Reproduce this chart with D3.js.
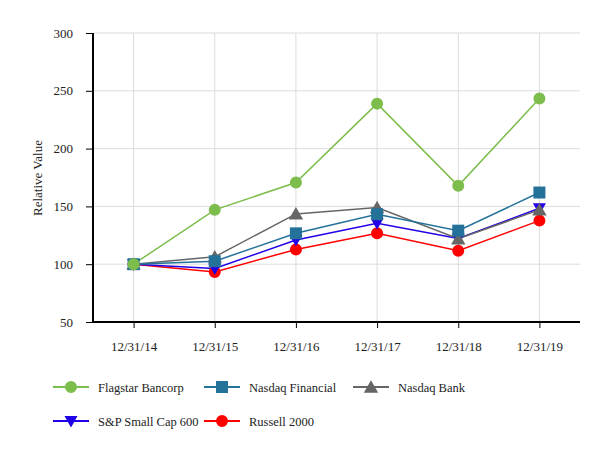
<!DOCTYPE html>
<html><head><meta charset="utf-8">
<script src="https://cdn.jsdelivr.net/npm/d3@7"></script>
<style>body{margin:0;background:#fff;} svg{display:block;} svg text{font-family:'Liberation Serif','Times New Roman',Times,serif !important;}</style>
</head><body>
<svg id="c" width="614" height="457"></svg>
<script>
const categories = ["12/31/14","12/31/15","12/31/16","12/31/17","12/31/18","12/31/19"];
const seriesNames = ["Flagstar Bancorp","Nasdaq Financial","Nasdaq Bank","S&P Small Cap 600","Russell 2000"];
const flagstar = [100, 147, 170.7, 238.9, 167.8, 243.3];
const nasdaqFinancial = [100, 102.6, 126.7, 143.2, 129, 162];
const nasdaqBank = [100, 106.4, 143.5, 149, 122, 147];
const sp600 = [100, 96.3, 120.9, 135.4, 122.3, 148.4];
const russell = [100, 93.3, 112.8, 126.7, 111.6, 137.7];
const yTicks = [50,100,150,200,250,300];
const colors = ["#7cbd4c","#24719a","#666666","#2000e8","#ff0000"];
const symbols = ["circle","square","triangle","triangleDown","circle"];
const values = [flagstar, nasdaqFinancial, nasdaqBank, sp600, russell];

(function(){
const svg = d3.select("#c");
const FONT = "Liberation Serif";
const pL = 93, pR = 580, pT = 33, pB = 322;
const x = d3.scalePoint().domain(categories).range([pL, pR]).padding(0.5);
const y = d3.scaleLinear().domain([50,300]).range([pB, pT]);

// grid
svg.append("g").selectAll("line").data(yTicks.slice(1)).join("line")
  .attr("x1", pL).attr("x2", pR).attr("y1", d=>y(d)).attr("y2", d=>y(d))
  .attr("stroke","#dcdcdc").attr("stroke-width",1);
svg.append("g").selectAll("line").data(categories).join("line")
  .attr("x1", d=>x(d)).attr("x2", d=>x(d)).attr("y1", pT).attr("y2", pB)
  .attr("stroke","#dcdcdc").attr("stroke-width",1);

// axes
const ya = svg.append("g").attr("transform",`translate(${pL},0)`)
  .call(d3.axisLeft(y).tickValues(yTicks).tickSize(7).tickPadding(13));
ya.attr("font-size",13).attr("font-family",FONT);
ya.select(".domain").attr("stroke","#000").attr("stroke-width",2).attr("d",`M0,${pT}V${pB}`);
ya.selectAll(".tick line").attr("stroke","#000");
ya.selectAll("text").attr("fill","#222");

const xa = svg.append("g").attr("transform",`translate(0,${pB})`)
  .call(d3.axisBottom(x).tickSize(6).tickPadding(14));
xa.attr("font-size",13).attr("font-family",FONT);
xa.select(".domain").attr("stroke","#000").attr("stroke-width",2).attr("d",`M${pL},0H${pR}`);
xa.selectAll(".tick line").attr("stroke","#000");
xa.selectAll("text").attr("fill","#222");

svg.append("text").attr("transform","translate(42,178) rotate(-90)")
  .attr("text-anchor","middle").attr("font-size",13).attr("font-family",FONT).attr("fill","#222").text("Relative Value");

function sym(name){
  if(name==="circle") return d3.symbol(d3.symbolCircle, 113)();
  if(name==="square") return d3.symbol(d3.symbolSquare, 144)();
  if(name==="triangle") return d3.symbol(d3.symbolTriangle, 90)();
  return "M-6.5,-5L6.5,-5L0,6.5Z";
}

const line = d3.line().x((d,i)=>x(categories[i])).y(d=>y(d));
for(let s=values.length-1; s>=0; s--){
  svg.append("path").attr("d", line(values[s])).attr("fill","none").attr("stroke",colors[s]).attr("stroke-width",1.5);
}
for(let s=values.length-1; s>=0; s--){
  svg.append("g").selectAll("path").data(values[s]).join("path")
    .attr("d", sym(symbols[s]))
    .attr("transform",(d,i)=>`translate(${x(categories[i])},${y(d) + (symbols[s]==="triangle"? 1.5 : 0)})`)
    .attr("fill",colors[s]);
}

// legend
const legPos = [[53,387],[204,387],[353,387],[53,421],[204,421]];
seriesNames.forEach((n,i)=>{
  const [lx,ly] = legPos[i];
  const g = svg.append("g").attr("transform",`translate(${lx},${ly})`);
  g.append("line").attr("x1",0).attr("x2",36).attr("y1",0).attr("y2",0).attr("stroke",colors[i]).attr("stroke-width",2);
  g.append("path").attr("d",sym(symbols[i])).attr("transform",`translate(18,${symbols[i]==="triangle"?1.5:0})`).attr("fill",colors[i]);
  g.append("text").attr("x",45).attr("y",4.5).attr("font-size",12.5).attr("font-family",FONT).attr("fill","#222").text(n);
});
})();
</script>
</body></html>
